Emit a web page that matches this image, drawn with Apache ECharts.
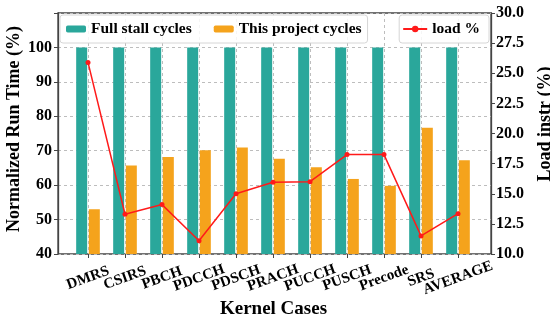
<!DOCTYPE html>
<html>
<head>
<meta charset="utf-8">
<script src="https://cdn.jsdelivr.net/npm/echarts@6/dist/echarts.min.js"></script>
<style>html,body{margin:0;padding:0;background:#fff}#c{width:550px;height:321px}</style>
</head>
<body>
<div id="c"></div>
<script>
var categories = ['DMRS','CSIRS','PBCH','PDCCH','PDSCH','PRACH','PUCCH','PUSCH','Precode','SRS','AVERAGE'];
var fullStall = [100,100,100,100,100,100,100,100,100,100,100];
var thisProject = [53.0,65.7,68.2,70.1,70.9,67.7,65.2,61.8,59.8,76.7,67.2];
var loadPct = [25.9,13.3,14.1,11.1,15.0,15.95,16.0,18.25,18.25,11.5,13.35];
var leftTicks = [40,110,10];
var rightTicks = [10,30,2.5];
var titles = {x: 'Kernel Cases', yLeft: 'Normalized Run Time (%)', yRight: 'Load instr (%)'};

var FF = 'Liberation Serif';
var chart = echarts.init(document.getElementById('c'));
var TEAL = '#2aa79b', ORANGE = '#f5a31c', RED = '#ff1a1a';
var axisCol = '#444';
var gridV = {top: 13, bottom: 67};
var titleFont = 'bold 18px "Liberation Serif"';
chart.setOption({
  animation: false,
  textStyle: {fontFamily: FF},
  grid: [
    {left: 58, right: 59, top: gridV.top, bottom: gridV.bottom, show: true, borderColor: axisCol, borderWidth: 1.3, backgroundColor: 'transparent'},
    {left: 69.5, right: 73.5, top: gridV.top, bottom: gridV.bottom},
    {left: 88, right: 92, top: gridV.top, bottom: gridV.bottom}
  ],
  graphic: [
    {type: 'text', rotation: Math.PI / 2, silent: true, x: 14, y: 129,
     style: {text: titles.yLeft, font: titleFont, fill: '#000', align: 'center', verticalAlign: 'middle'}},
    {type: 'text', rotation: Math.PI / 2, silent: true, x: 545, y: 124,
     style: {text: titles.yRight, font: titleFont, fill: '#000', align: 'center', verticalAlign: 'middle'}},
    {type: 'text', silent: true, x: 273.5, y: 309,
     style: {text: titles.x, font: 'bold 19px "Liberation Serif"', fill: '#000', align: 'center', verticalAlign: 'middle'}}
  ],
  legend: [
    {data: ['Full stall cycles', 'This project cycles'], left: 60, top: 15,
     itemWidth: 20, itemHeight: 7, itemGap: 22, padding: [6, 6, 6, 6],
     borderColor: '#d6d6d6', borderWidth: 1, borderRadius: 3, backgroundColor: 'rgba(255,255,255,0.85)',
     textStyle: {fontFamily: FF, fontWeight: 'bold', fontSize: 15.5, color: '#000'}},
    {data: ['load %'], right: 61, top: 15,
     itemWidth: 24, itemHeight: 8, padding: [6, 9, 6, 3],
     borderColor: '#d6d6d6', borderWidth: 1, borderRadius: 3, backgroundColor: 'rgba(255,255,255,0.85)',
     textStyle: {fontFamily: FF, fontWeight: 'bold', fontSize: 15.5, color: '#000'}}
  ],
  xAxis: [
    {type: 'value', gridIndex: 0, min: 0, max: 1, show: false},
    {type: 'category', gridIndex: 1, data: categories, boundaryGap: true, show: false},
    {type: 'category', gridIndex: 2, data: categories, boundaryGap: false,
     axisLine: {show: false},
     axisTick: {show: true, length: 4, lineStyle: {color: axisCol}},
     splitLine: {show: true, lineStyle: {type: [3, 3], color: '#bdbdbd', width: 1}},
     axisLabel: {rotate: 20, align: 'center', verticalAlign: 'middle', margin: 24, interval: 0,
       fontFamily: FF, fontWeight: 'bold', fontSize: 15, color: '#000'}}
  ],
  yAxis: [
    {type: 'value', gridIndex: 0, position: 'left', min: leftTicks[0], max: leftTicks[1], interval: leftTicks[2],
     axisLine: {show: true, lineStyle: {color: axisCol, width: 1.3}},
     axisTick: {show: true, length: 4, lineStyle: {color: axisCol}},
     splitLine: {show: true, lineStyle: {type: [3, 3], color: '#bdbdbd', width: 1}},
     axisLabel: {fontFamily: FF, fontWeight: 'bold', fontSize: 16, color: '#000', margin: 6,
       formatter: function (v) { return v > 100 ? '' : String(v); }}},
    {type: 'value', gridIndex: 0, position: 'right', min: rightTicks[0], max: rightTicks[1], interval: rightTicks[2],
     axisLine: {show: true, lineStyle: {color: axisCol, width: 1.3}},
     axisTick: {show: true, length: 4, lineStyle: {color: axisCol}},
     splitLine: {show: false},
     axisLabel: {fontFamily: FF, fontWeight: 'bold', fontSize: 16, color: '#000', margin: 5,
       formatter: function (v) { return v.toFixed(1); }}},
    {type: 'value', gridIndex: 1, min: leftTicks[0], max: leftTicks[1], show: false},
    {type: 'value', gridIndex: 1, min: rightTicks[0], max: rightTicks[1], show: false},
    {type: 'value', gridIndex: 2, min: leftTicks[0], max: leftTicks[1], show: false}
  ],
  series: [
    {name: 'Full stall cycles', type: 'bar', xAxisIndex: 1, yAxisIndex: 2, data: fullStall,
     barWidth: 11, barGap: '15%', itemStyle: {color: TEAL}},
    {name: 'This project cycles', type: 'bar', xAxisIndex: 1, yAxisIndex: 2, data: thisProject,
     barWidth: 11, barGap: '15%', itemStyle: {color: ORANGE}},
    {name: 'load %', type: 'line', xAxisIndex: 1, yAxisIndex: 3, data: loadPct,
     symbol: 'circle', symbolSize: 5, clip: false,
     lineStyle: {color: RED, width: 1.5}, itemStyle: {color: RED}, z: 5}
  ]
});
</script>
</body>
</html>
